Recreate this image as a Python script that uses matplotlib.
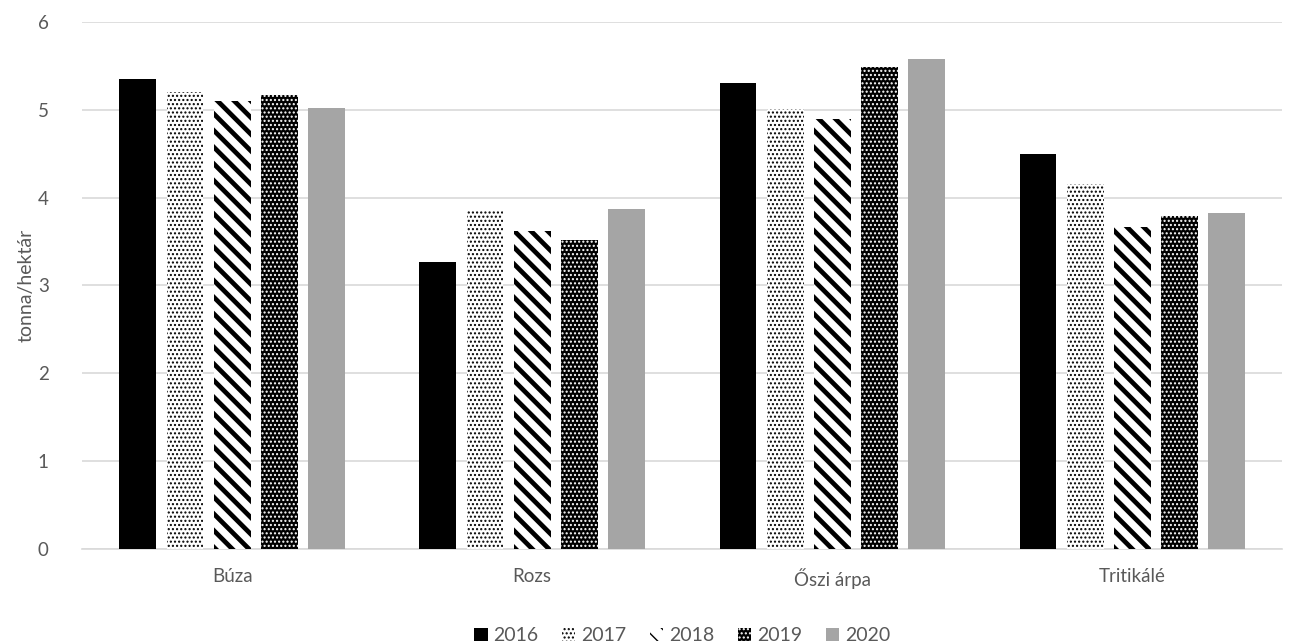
import numpy as np
import matplotlib
matplotlib.use("Agg")
from matplotlib import pyplot as plt

plt.rcParams['font.family'] = ['Lato', 'DejaVu Sans']

categories = ["Búza", "Rozs", "Őszi árpa", "Tritikálé"]
years = ["2016", "2017", "2018", "2019", "2020"]

y2016 = [5.35, 3.27, 5.30, 4.50]
y2017 = [5.20, 3.85, 5.01, 4.15]
y2018 = [5.10, 3.62, 4.89, 3.66]
y2019 = [5.17, 3.52, 5.49, 3.79]
y2020 = [5.02, 3.87, 5.58, 3.83]

series = [y2016, y2017, y2018, y2019, y2020]

# face, hatch colour, hatch, hatch width
styles = [
    ("black", "black", None, 1.0),
    ("white", "black", "....", 1.0),
    ("white", "black", "\\\\", 3.4),
    ("black", "white", "....", 1.0),
    ("#a5a5a5", "#a5a5a5", None, 1.0),
]

fig = plt.figure(figsize=(12.9, 6.44), dpi=100)
ax = fig.add_axes([0.0636, 0.1475, 0.9304, 0.8185])

x = np.arange(len(categories))
w = 0.123
step = 0.157

for i, vals in enumerate(series):
    face, hc, hatch, hw = styles[i]
    with plt.rc_context({'hatch.linewidth': hw}):
        bars = ax.bar(x + (i - 2) * step, vals, width=w, color=face,
                      edgecolor=hc, hatch=hatch, linewidth=0, label=years[i],
                      zorder=3)
    for b in bars:
        if hasattr(b, "set_hatch_linewidth"):
            b.set_hatch_linewidth(hw)

ax.set_xlim(-0.5, 3.5)
ax.set_ylim(0, 6)
ax.set_yticks(range(0, 7))
ax.set_xticks(x)
ax.set_xticklabels(categories)
ax.yaxis.grid(True, color="#d9d9d9", linewidth=1.2, zorder=0)
ax.set_axisbelow(True)
for s in ["top", "right", "left"]:
    ax.spines[s].set_visible(False)
ax.spines["bottom"].set_color("#d9d9d9")
ax.spines["bottom"].set_linewidth(1.2)
ax.tick_params(axis="both", length=0, labelsize=13.5, colors="#595959", pad=14)
ax.tick_params(axis="y", pad=24)
ax.set_ylabel("tonna/hektár", fontsize=14, color="#595959", labelpad=2)

leg = ax.legend(loc="upper center", bbox_to_anchor=(0.5, -0.115), ncol=5,
                frameon=False, fontsize=14, handlelength=0.7, handleheight=0.7,
                handletextpad=0.3, columnspacing=1.2)
for t in leg.get_texts():
    t.set_color("#595959")

fig.savefig("out.png", dpi=100)
